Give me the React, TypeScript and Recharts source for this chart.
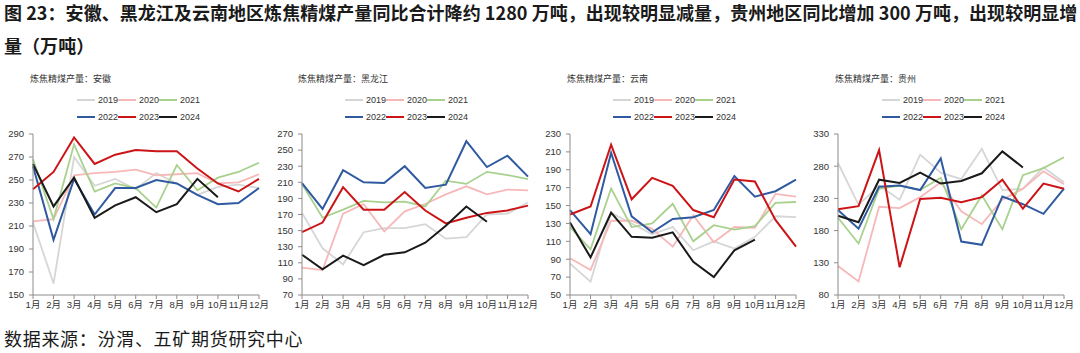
import { LineChart, Line, XAxis, YAxis, Legend } from "recharts";

const MONTHS = ['1月', '2月', '3月', '4月', '5月', '6月', '7月', '8月', '9月', '10月', '11月', '12月'];
const YEARS = ['2019', '2020', '2021', '2022', '2023', '2024'];

// one row per year, 2019 -> 2024 (2024 only up to Oct)
const ANHUI = [
  [213, 160, 270, 245, 251, 242, 256, 247, 237, 244, 246, 243],
  [214, 216, 254, 256, 257, 259, 254, 255, 256, 247, 248, 255],
  [268, 216, 281, 240, 247, 243, 226, 263, 241, 252, 257, 265],
  [262, 198, 251, 220, 243, 243, 250, 247, 237, 229, 230, 243],
  [242, 257, 287, 264, 272, 276, 275, 275, 260, 247, 240, 251],
  [264, 227, 252, 217, 228, 235, 222, 229, 251, 235],
];
const HEILONGJIANG = [
  [172, 128, 108, 148, 153, 153, 158, 140, 142, 170, 171, 185],
  [104, 101, 171, 183, 149, 174, 183, 195, 205, 195, 201, 200],
  [208, 166, 176, 187, 185, 186, 180, 212, 208, 223, 219, 214],
  [209, 177, 225, 210, 209, 230, 203, 207, 261, 229, 243, 217],
  [148, 160, 204, 176, 176, 198, 175, 159, 166, 172, 175, 181],
  [120, 102, 119, 107, 120, 123, 135, 156, 180, 161],
];
const YUNNAN = [
  [85, 65, 142, 130, 118, 126, 100, 110, 102, 115, 138, 137],
  [91, 78, 133, 133, 124, 104, 139, 109, 126, 125, 163, 160],
  [126, 101, 169, 126, 130, 152, 110, 128, 123, 127, 153, 154],
  [145, 118, 209, 138, 120, 135, 137, 145, 183, 160, 166, 179],
  [140, 149, 218, 157, 181, 172, 145, 137, 179, 177, 134, 104],
  [131, 92, 142, 115, 114, 120, 87, 70, 100, 112],
];
const GUIZHOU = [
  [285, 220, 250, 228, 298, 270, 260, 307, 243, 245, 278, 255],
  [125, 101, 217, 215, 232, 255, 210, 190, 228, 245, 272, 252],
  [200, 160, 245, 250, 243, 262, 182, 235, 182, 266, 277, 294],
  [212, 183, 248, 250, 243, 292, 163, 158, 233, 221, 206, 245],
  [213, 218, 305, 123, 229, 231, 224, 232, 259, 214, 253, 245],
  [203, 193, 259, 254, 270, 253, 257, 269, 303, 278],
];

const COLORS = ['#d6d6d6', '#f6b8b8', '#a9d18e', '#2f5aa0', '#cc1417', '#1a1a1a'];
const FONT = '"Liberation Sans", "Noto Sans CJK SC", sans-serif';
const CJK = '"Noto Sans CJK SC", "Liberation Sans", sans-serif';
const AXIS = '#8c8c8c';

const buildData = (rows: number[][]) =>
  MONTHS.map((m, i) => {
    const row: Record<string, string | number | undefined> = { month: m };
    YEARS.forEach((y, k) => {
      row[y] = rows[k][i];
    });
    return row;
  });

const renderLegend = () => (
  <div style={{ display: 'grid', gridTemplateColumns: 'repeat(3, 41px)', fontFamily: FONT }}>
    {YEARS.map((y, i) => (
      <div key={y} style={{ display: 'flex', alignItems: 'center', height: 16.5 }}>
        <span style={{ display: 'inline-block', width: 20, height: 2, background: COLORS[i], marginRight: 3 }} />
        <span style={{ fontSize: 9, color: '#333' }}>{y}</span>
      </div>
    ))}
  </div>
);

interface PanelProps {
  title: string;
  rows: number[][];
  left: number;
  yWidth: number;
  right: number;
  legendLeft: number;
  titleLeft: number;
  domain: [number, number];
  ticks: number[];
}

function Panel({ title, rows, left, yWidth, right, legendLeft, titleLeft, domain, ticks }: PanelProps) {
  const data = buildData(rows);
  return (
    <div style={{ position: 'absolute', left, top: 0, width: 268, height: 320 }}>
      <div
        style={{
          position: 'absolute',
          left: titleLeft,
          top: 72,
          fontSize: 9,
          lineHeight: '14px',
          color: '#333',
          fontFamily: CJK,
          whiteSpace: 'nowrap',
        }}
      >
        {title}
      </div>
      <LineChart width={268} height={320} data={data} margin={{ top: 134, right, bottom: 5, left: 0 }}>
        <XAxis
          dataKey="month"
          scale="point"
          interval={0}
          padding={{ left: 0, right: 0 }}
          height={20}
          tickSize={4}
          tickMargin={2}
          axisLine={{ stroke: AXIS }}
          tickLine={{ stroke: AXIS }}
          tick={{ fontSize: 9.5, fill: '#333', fontFamily: FONT }}
        />
        <YAxis
          width={yWidth}
          domain={domain}
          ticks={ticks}
          interval={0}
          tickSize={4}
          tickMargin={5}
          axisLine={{ stroke: AXIS }}
          tickLine={{ stroke: AXIS }}
          tick={{ fontSize: 9.5, fill: '#333', fontFamily: FONT }}
        />
        <Legend
          layout="horizontal"
          verticalAlign="middle"
          align="center"
          content={renderLegend}
          wrapperStyle={{ top: 92, left: legendLeft, width: 130, height: 34 }}
        />
        {YEARS.map((y, i) => (
          <Line
            key={y}
            dataKey={y}
            type="linear"
            stroke={COLORS[i]}
            strokeWidth={i < 3 ? 1.8 : 2}
            dot={false}
            isAnimationActive={false}
          />
        ))}
      </LineChart>
    </div>
  );
}

export default function App() {
  return (
    <div style={{ position: 'absolute', left: 0, top: 0, width: 1080, height: 353, background: '#fff', overflow: 'hidden' }}>
      <div
        style={{
          position: 'absolute',
          left: 4,
          top: -4,
          fontFamily: CJK,
          fontWeight: 700,
          fontSize: 18,
          lineHeight: '33px',
          letterSpacing: 0.05,
          color: '#1a1a1a',
          whiteSpace: 'nowrap',
        }}
      >
        <div>图 23：安徽、黑龙江及云南地区炼焦精煤产量同比合计降约 1280 万吨，出现较明显减量，贵州地区同比增加 300 万吨，出现较明显增</div>
        <div>量（万吨）</div>
      </div>

      <Panel title="炼焦精煤产量：安徽" rows={ANHUI} left={0} yWidth={33} right={9} legendLeft={77} titleLeft={30}
        domain={[150, 290]} ticks={[150, 170, 190, 210, 230, 250, 270, 290]} />
      <Panel title="炼焦精煤产量：黑龙江" rows={HEILONGJIANG} left={270} yWidth={32} right={10} legendLeft={75} titleLeft={28}
        domain={[70, 270]} ticks={[70, 90, 110, 130, 150, 170, 190, 210, 230, 250, 270]} />
      <Panel title="炼焦精煤产量：云南" rows={YUNNAN} left={540} yWidth={30} right={12} legendLeft={73} titleLeft={27}
        domain={[50, 230]} ticks={[50, 70, 90, 110, 130, 150, 170, 190, 210, 230]} />
      <Panel title="炼焦精煤产量：贵州" rows={GUIZHOU} left={805} yWidth={33} right={9} legendLeft={77} titleLeft={30}
        domain={[80, 330]} ticks={[80, 130, 180, 230, 280, 330]} />

      <div
        style={{
          position: 'absolute',
          left: 4,
          top: 326,
          fontFamily: CJK,
          fontSize: 18,
          lineHeight: '24px',
          letterSpacing: 0.7,
          color: '#1a1a1a',
          whiteSpace: 'nowrap',
        }}
      >
        数据来源：汾渭、五矿期货研究中心
      </div>
    </div>
  );
}
